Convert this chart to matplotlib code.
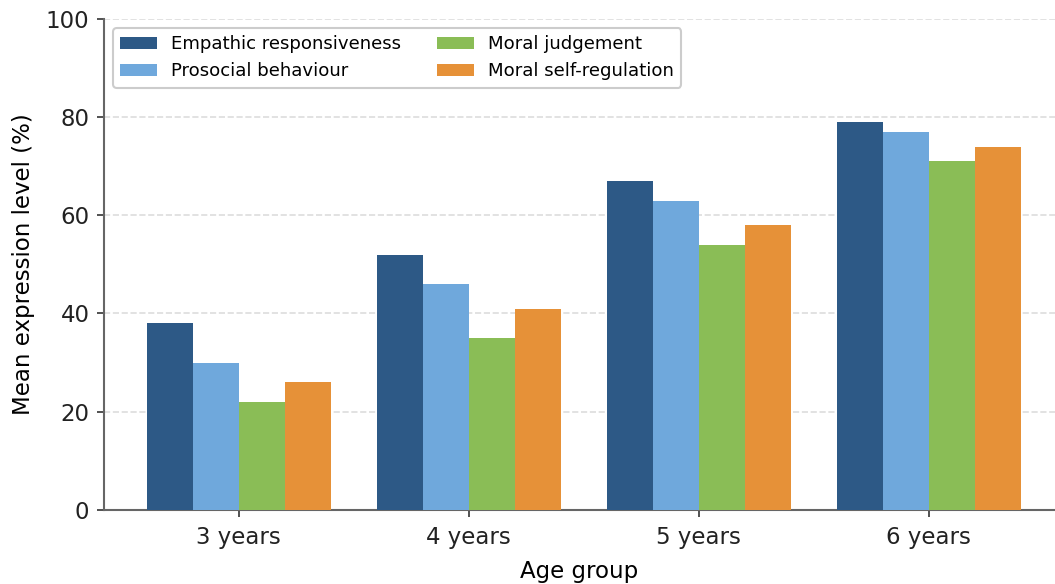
import matplotlib.pyplot as plt
import numpy as np

age_groups = ["3 years", "4 years", "5 years", "6 years"]
empathic = [38, 52, 67, 79]
prosocial = [30, 46, 63, 77]
moral_judgement = [22, 35, 54, 71]
self_regulation = [26, 41, 58, 74]

series = [
    ("Empathic responsiveness", empathic, "#2d5986"),
    ("Prosocial behaviour", prosocial, "#6fa8dc"),
    ("Moral judgement", moral_judgement, "#8abd56"),
    ("Moral self-regulation", self_regulation, "#e69138"),
]

plt.rcParams["font.size"] = 11

fig = plt.figure(figsize=(1055 / 150, 584 / 150), dpi=150)
ax = fig.add_axes([0.0986, 0.127, 0.9014, 0.8405])

x = np.arange(len(age_groups))
width = 0.2
for i, (name, vals, color) in enumerate(series):
    ax.bar(x + (i - 1.5) * width, vals, width, label=name, color=color, zorder=3)

ax.set_xlim(-0.585, 3.55)
ax.set_ylim(0, 100)
ax.set_xticks(x)
ax.set_xticklabels(age_groups)
ax.set_yticks([0, 20, 40, 60, 80, 100])
ax.set_xlabel("Age group", labelpad=5)
ax.set_ylabel("Mean expression level (%)", labelpad=5)

ax.grid(axis="y", linestyle="--", color="#dddddd", linewidth=0.8, zorder=0)
ax.spines["top"].set_visible(False)
ax.spines["right"].set_visible(False)
for side in ("left", "bottom"):
    ax.spines[side].set_color("#666666")
    ax.spines[side].set_linewidth(1.0)
ax.tick_params(colors="#333333", labelcolor="#222222")
ax.tick_params(axis="x", pad=4.5)

ax.legend(loc="upper left", ncol=2, fontsize=8.7, frameon=True,
          edgecolor="#cccccc", framealpha=1, columnspacing=2.0)

fig.savefig("out.png", dpi=150)
